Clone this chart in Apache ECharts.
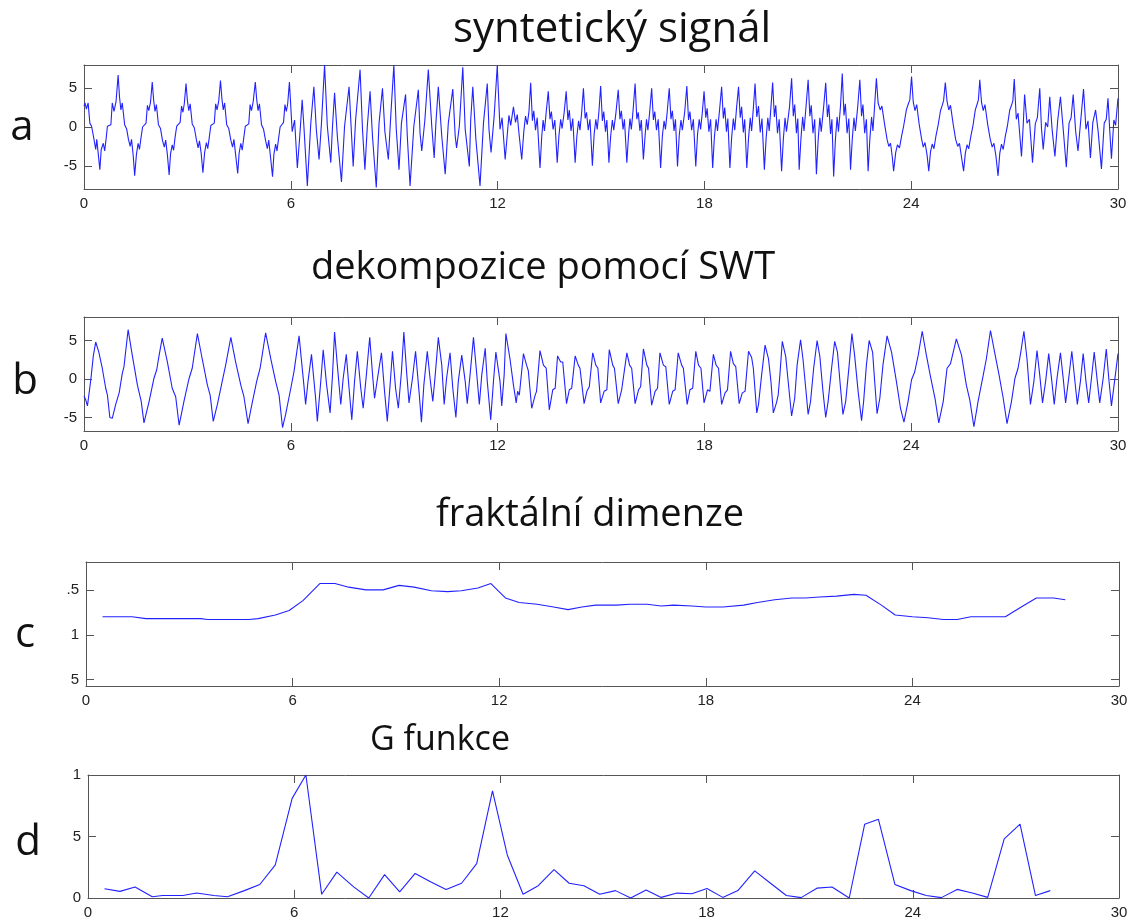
<!DOCTYPE html>
<html><head><meta charset="utf-8">
<script src="https://cdn.jsdelivr.net/npm/echarts@6/dist/echarts.min.js"></script>
<style>html,body{margin:0;padding:0;background:#fff}#c{width:1133px;height:920px}</style>
</head><body><div id="c"></div><script>
// ---- titles / labels ----
const panelTitles = ['syntetický signál', 'dekompozice pomocí SWT', 'fraktální dimenze', 'G funkce'];
const panelLetters = ['a', 'b', 'c', 'd'];
const xTicks = [0, 6, 12, 18, 24, 30];
const abTickValues = [-5, 0, 5];
const abTickLabels = ['-5', '0', '5'];
const cTickValues = [0.5, 1, 1.5];
const cTickLabels = ['5', '1', '.5'];
const dTickValues = [0, 0.5, 1];
const dTickLabels = ['0', '5', '1'];

// ---- a: synthetic signal [time, value] ----
const aSignal = [
[0,2.7],[0.03,3.1],[0.07,2.3],[0.12,3.1],[0.17,0.5],[0.22,0.1],[0.29,-1.6],[0.34,-2.9],[0.37,-1.6],[0.41,-3.3],[0.46,-5.5],[0.5,-2.9],[0.56,-2.1],[0.6,-3.1],[0.64,-1.6],[0.68,0.1],[0.73,-0.1],[0.78,0.3],[0.82,3.1],[0.87,2.0],[0.93,3.3],[0.99,6.7],
[1.03,3.9],[1.07,2.2],[1.11,3.1],[1.18,0.3],[1.24,-0.3],[1.29,-1.6],[1.34,-2.5],[1.38,-1.6],[1.43,-3.8],[1.47,-6.3],[1.52,-3.6],[1.57,-2.1],[1.61,-2.9],[1.65,-1.5],[1.7,0.0],[1.75,0.2],[1.8,0.5],[1.84,2.8],[1.88,2.1],[1.93,3.2],[1.98,5.8],
[2.02,3.5],[2.06,2.0],[2.1,2.9],[2.16,0.3],[2.22,-0.2],[2.28,-1.8],[2.33,-2.6],[2.37,-1.7],[2.42,-3.6],[2.47,-6.2],[2.51,-3.5],[2.56,-2.3],[2.6,-3.0],[2.64,-1.4],[2.69,0.1],[2.74,0.0],[2.79,0.6],[2.83,2.7],[2.87,1.9],[2.91,3.0],[2.96,5.6],
[3.0,3.4],[3.04,2.1],[3.08,3.0],[3.14,0.4],[3.2,-0.1],[3.26,-1.6],[3.31,-2.7],[3.35,-1.8],[3.4,-3.4],[3.45,-5.9],[3.5,-3.3],[3.55,-2.0],[3.59,-2.8],[3.63,-1.5],[3.68,0.2],[3.73,0.0],[3.78,0.5],[3.82,3.0],[3.86,2.2],[3.91,3.4],[3.96,6.0],
[4.0,3.7],[4.04,2.2],[4.08,3.1],[4.14,0.3],[4.2,-0.2],[4.26,-1.7],[4.31,-2.6],[4.35,-1.6],[4.4,-3.6],[4.46,-6.0],[4.5,-3.4],[4.55,-2.1],[4.59,-3.0],[4.63,-1.6],[4.68,0.1],[4.73,0.0],[4.78,0.4],[4.82,2.9],[4.86,2.1],[4.91,3.3],[4.97,5.8],
[5.01,3.6],[5.05,2.1],[5.09,3.0],[5.15,0.3],[5.21,-0.3],[5.27,-1.8],[5.32,-2.8],[5.36,-1.7],[5.41,-3.8],[5.47,-6.4],[5.51,-3.5],[5.56,-2.2],[5.6,-3.1],[5.64,-1.7],[5.69,0.0],[5.74,0.1],[5.79,0.6],[5.83,2.9],[5.87,2.0],[5.91,3.0],[5.96,5.8],
[6.04,-0.6],[6.11,0.9],[6.19,-5.3],[6.26,-1.2],[6.33,3.5],[6.38,0.1],[6.48,-7.6],[6.58,0.5],[6.67,5.2],[6.74,-0.3],[6.82,-4.2],[6.89,0.5],[6.98,8.0],
[7.06,0.1],[7.16,-4.6],[7.21,0.1],[7.27,4.4],[7.35,-1.2],[7.47,-7.1],[7.56,0.1],[7.69,5.2],[7.76,-0.8],[7.81,-5.1],[7.88,0.9],[8.01,7.4],
[8.08,-0.3],[8.15,-5.5],[8.22,0.1],[8.3,4.6],[8.37,-1.2],[8.48,-7.8],[8.56,0.5],[8.66,5.0],[8.73,-0.6],[8.83,-4.2],[8.9,1.4],[8.99,8.0],
[9.06,-0.3],[9.14,-5.5],[9.21,0.5],[9.33,4.2],[9.38,-1.2],[9.46,-7.6],[9.57,0.1],[9.7,4.8],[9.75,-0.8],[9.8,-3.1],[9.89,0.9],[9.99,7.4],
[10.09,0.1],[10.16,-4.0],[10.21,0.5],[10.28,5.2],[10.38,-1.2],[10.48,-6.1],[10.57,0.5],[10.7,4.9],[10.77,-1.2],[10.81,-2.7],[10.89,0.1],[10.99,7.7],
[11.06,-0.3],[11.18,-5.1],[11.22,0.9],[11.28,5.2],[11.37,-1.6],[11.49,-7.6],[11.59,0.5],[11.7,5.6],[11.75,-0.3],[11.81,-3.3],[11.9,1.4],[11.99,7.9],
[12.07,-0.3],[12.13,1.2],[12.22,-4.2],[12.28,-1.0],[12.33,1.5],[12.38,0.2],[12.46,2.6],[12.52,0.6],[12.57,1.6],[12.62,-0.8],[12.7,-4.2],[12.76,-0.6],[12.81,1.4],[12.86,0.3],[12.91,2.0],[12.96,5.7],
[13.01,0.8],[13.05,2.1],[13.1,-0.4],[13.15,1.2],[13.23,-5.3],[13.28,-1.3],[13.32,0.9],[13.36,-0.5],[13.41,1.9],[13.47,4.6],
[13.52,1.0],[13.56,2.0],[13.61,-0.3],[13.66,0.9],[13.73,-4.6],[13.78,-1.1],[13.83,1.0],[13.87,-0.2],[13.93,1.8],[13.99,4.6],
[14.04,0.9],[14.08,2.2],[14.13,-0.5],[14.18,1.1],[14.25,-4.6],[14.3,-1.2],[14.35,0.8],[14.39,-0.4],[14.44,1.9],[14.49,5.0],
[14.54,1.1],[14.58,1.9],[14.63,-0.4],[14.68,1.0],[14.75,-5.0],[14.8,-1.0],[14.85,1.0],[14.89,-0.3],[14.94,2.0],[14.99,5.3],
[15.04,0.8],[15.08,2.0],[15.13,-0.6],[15.17,0.9],[15.23,-4.6],[15.28,-1.2],[15.33,0.9],[15.37,-0.4],[15.43,1.7],[15.5,4.8],
[15.55,1.0],[15.59,2.1],[15.64,-0.3],[15.68,1.0],[15.75,-4.6],[15.8,-1.0],[15.84,1.1],[15.88,-0.3],[15.93,2.1],[15.99,5.6],
[16.04,1.0],[16.08,1.9],[16.13,-0.5],[16.17,0.9],[16.23,-4.2],[16.28,-1.1],[16.32,1.0],[16.36,-0.4],[16.41,1.8],[16.47,5.0],
[16.52,0.9],[16.56,2.0],[16.61,-0.4],[16.66,1.0],[16.73,-5.3],[16.78,-1.2],[16.83,0.8],[16.87,-0.3],[16.92,1.9],[16.98,5.0],
[17.03,1.0],[17.07,2.1],[17.12,-0.5],[17.16,1.0],[17.22,-5.1],[17.27,-1.1],[17.32,0.9],[17.36,-0.4],[17.43,2.0],[17.49,5.3],
[17.54,0.9],[17.58,2.0],[17.63,-0.4],[17.68,1.0],[17.75,-5.1],[17.8,-1.0],[17.85,1.0],[17.89,-0.3],[17.94,1.9],[17.99,4.6],
[18.04,1.2],[18.08,2.4],[18.13,-0.6],[18.18,1.0],[18.24,-5.3],[18.29,-1.3],[18.34,1.0],[18.38,-0.5],[18.44,2.2],[18.5,5.2],
[18.55,1.1],[18.59,2.5],[18.64,-0.6],[18.68,1.1],[18.74,-5.3],[18.79,-1.4],[18.84,1.1],[18.88,-0.4],[18.93,2.3],[18.99,5.2],
[19.04,1.2],[19.08,2.6],[19.13,-0.7],[19.17,1.0],[19.23,-5.3],[19.28,-1.5],[19.33,1.2],[19.37,-0.5],[19.42,2.4],[19.47,5.6],
[19.52,1.3],[19.57,2.7],[19.62,-0.7],[19.67,1.1],[19.74,-5.5],[19.79,-1.5],[19.84,1.2],[19.88,-0.5],[19.93,2.5],[19.98,5.75],
[20.03,1.3],[20.07,2.8],[20.12,-0.8],[20.17,1.0],[20.24,-5.7],[20.29,-1.6],[20.34,1.2],[20.38,-0.6],[20.47,2.6],[20.53,6.3],
[20.58,1.4],[20.62,2.9],[20.67,-0.8],[20.71,1.1],[20.75,-5.5],[20.8,-1.6],[20.85,1.3],[20.89,-0.5],[20.95,2.7],[21.01,6.1],
[21.06,1.4],[21.1,2.8],[21.15,-0.8],[21.2,1.0],[21.25,-6.1],[21.3,-1.7],[21.35,1.2],[21.39,-0.6],[21.46,2.6],[21.52,5.7],
[21.57,1.3],[21.61,2.9],[21.66,-0.9],[21.7,1.0],[21.75,-6.4],[21.8,-1.7],[21.85,1.3],[21.89,-0.6],[21.95,2.8],[22.0,6.9],
[22.05,1.5],[22.09,3.0],[22.14,-0.8],[22.19,1.1],[22.24,-5.5],[22.29,-1.6],[22.34,1.2],[22.38,-0.5],[22.45,2.7],[22.51,6.1],
[22.56,1.4],[22.6,2.9],[22.65,-0.8],[22.7,1.0],[22.75,-5.7],[22.8,-1.6],[22.85,1.3],[22.89,-0.5],[22.94,2.8],[22.99,6.3],
[23.04,3.1],[23.1,2.2],[23.15,2.7],[23.23,0.3],[23.3,-1.6],[23.35,-2.5],[23.4,-2.1],[23.45,-3.8],[23.49,-5.7],[23.55,-3.3],[23.6,-2.3],[23.66,-2.7],[23.72,-1.2],[23.78,0.1],[23.86,2.2],[23.91,2.9],[23.96,3.5],[24.01,6.5],
[24.06,3.2],[24.11,2.1],[24.16,2.9],[24.23,0.4],[24.3,-1.5],[24.35,-2.6],[24.4,-2.0],[24.46,-3.6],[24.51,-5.7],[24.56,-3.2],[24.61,-2.2],[24.66,-2.8],[24.72,-1.1],[24.78,0.2],[24.85,2.1],[24.9,2.8],[24.94,3.4],[24.99,5.75],
[25.04,3.3],[25.09,2.2],[25.14,2.8],[25.22,0.3],[25.29,-1.6],[25.35,-2.5],[25.4,-2.1],[25.46,-3.9],[25.52,-5.7],[25.57,-3.4],[25.62,-2.3],[25.67,-2.8],[25.73,-1.2],[25.79,0.1],[25.86,2.2],[25.91,2.9],[25.95,3.5],[25.99,6.1],
[26.04,3.2],[26.09,2.1],[26.14,2.9],[26.22,0.3],[26.29,-1.5],[26.35,-2.6],[26.4,-2.1],[26.46,-3.8],[26.52,-6.3],[26.57,-3.4],[26.62,-2.2],[26.67,-2.9],[26.73,-1.2],[26.79,0.1],[26.86,2.2],[26.91,2.8],[26.95,3.4],[26.99,6.2],
[27.05,1.0],[27.1,1.8],[27.2,-3.8],[27.25,0.2],[27.29,4.2],[27.36,0.5],[27.43,1.0],[27.52,-4.6],[27.6,0.4],[27.66,1.2],[27.73,5.0],[27.78,-0.2],[27.83,-2.9],[27.9,0.6],[27.96,0.0],[28.02,3.9],
[28.09,-0.4],[28.17,-3.8],[28.25,0.8],[28.33,3.9],[28.4,0.3],[28.5,-5.2],[28.58,0.5],[28.64,1.2],[28.7,4.2],[28.77,-0.5],[28.84,-3.1],[28.92,0.9],[29.0,4.9],
[29.07,-0.3],[29.13,0.8],[29.2,-4.0],[29.27,0.6],[29.35,2.2],[29.42,-0.4],[29.52,-5.4],[29.6,0.5],[29.66,1.0],[29.71,3.7],[29.76,-0.4],[29.81,-4.1],[29.88,0.9],[29.93,0.2],[30.0,3.7]
];

// ---- b: SWT decomposition [time, value] ----
const bSignal = [
[0,-2.2],[0.05,-2.7],[0.1,-3.5],[0.2,0.0],[0.27,3.0],[0.34,4.8],[0.43,3.5],[0.53,1.4],[0.63,-1.2],[0.68,-2.1],[0.75,-5.0],[0.82,-5.1],[0.92,-3.3],[1.02,-1.8],[1.11,0.7],[1.16,1.6],[1.28,6.4],
[1.4,3.1],[1.55,-0.8],[1.6,-1.0],[1.66,-2.9],[1.74,-5.7],[1.89,-2.9],[2.03,0.1],[2.11,1.2],[2.18,3.1],[2.27,5.3],
[2.42,2.2],[2.56,-1.2],[2.66,-2.3],[2.76,-6.0],[2.9,-2.9],[3.05,0.1],[3.14,1.4],[3.29,5.9],
[3.43,2.6],[3.58,-0.8],[3.66,-2.1],[3.75,-5.5],[3.87,-3.3],[4.01,-0.3],[4.11,1.8],[4.26,5.4],
[4.4,2.2],[4.55,-0.8],[4.64,-2.3],[4.76,-5.8],[4.88,-3.1],[5.01,-0.3],[5.11,1.4],[5.27,6.0],
[5.42,2.6],[5.56,-0.3],[5.66,-2.1],[5.76,-6.3],[5.85,-4.6],[6.0,-1.2],[6.09,0.9],[6.24,5.6],
[6.38,-0.8],[6.43,-3.3],[6.5,-0.3],[6.6,3.2],[6.72,-2.5],[6.77,-5.5],[6.87,-0.3],[6.94,3.8],[7.04,-0.8],[7.14,-4.4],[7.21,0.5],[7.27,6.1],
[7.35,1.8],[7.45,-3.3],[7.52,0.1],[7.61,3.2],[7.69,-1.2],[7.77,-5.3],[7.85,-0.3],[7.93,3.6],[8.03,-1.2],[8.1,-3.8],[8.2,0.9],[8.29,5.4],
[8.38,0.1],[8.43,-2.5],[8.53,0.5],[8.63,3.4],[8.72,-1.6],[8.8,-5.5],[8.88,-0.8],[8.95,3.6],[9.04,-1.2],[9.12,-3.8],[9.21,0.9],[9.28,6.1],
[9.36,0.9],[9.43,-3.1],[9.53,0.1],[9.62,3.6],[9.72,-1.6],[9.79,-5.6],[9.86,-0.8],[9.96,3.6],[10.04,0.1],[10.12,-2.9],[10.19,0.5],[10.28,5.4],
[10.38,1.8],[10.45,-3.3],[10.52,0.1],[10.62,3.4],[10.7,-1.2],[10.79,-5.0],[10.86,-0.3],[10.96,3.1],[11.06,-0.3],[11.12,-3.2],[11.2,0.5],[11.3,5.4],
[11.39,0.9],[11.47,-3.3],[11.54,0.5],[11.64,4.0],[11.7,-0.3],[11.8,-5.3],[11.88,-0.3],[11.95,3.5],[12.07,-0.3],[12.12,-3.5],[12.19,0.5],[12.24,5.9],
[12.36,2.6],[12.46,-0.8],[12.54,-3.1],[12.58,-1.6],[12.63,-2.1],[12.75,3.3],[12.84,1.8],[12.89,1.1],[12.99,-3.8],[13.09,-2.1],[13.13,-1.6],[13.23,3.7],
[13.33,1.8],[13.41,1.4],[13.5,-4.0],[13.6,-1.4],[13.67,-1.2],[13.74,3.0],[13.83,2.2],[13.89,2.2],[14.0,-3.2],[14.08,-1.4],[14.15,-1.2],[14.25,3.0],
[14.34,1.8],[14.39,1.4],[14.51,-3.2],[14.59,-1.6],[14.66,-1.0],[14.76,3.4],[14.85,1.8],[14.91,1.4],[14.99,-3.1],[15.09,-1.6],[15.17,-1.4],[15.24,3.8],
[15.34,1.8],[15.39,1.4],[15.5,-3.2],[15.6,-1.4],[15.65,-1.4],[15.75,3.4],[15.83,1.8],[15.89,1.4],[15.99,-3.2],[16.09,-1.4],[16.15,-1.0],[16.23,3.9],
[16.33,1.8],[16.38,1.4],[16.47,-3.4],[16.57,-1.6],[16.64,-1.2],[16.71,3.4],[16.81,1.8],[16.88,1.6],[16.98,-3.3],[17.08,-1.6],[17.15,-1.4],[17.24,3.4],
[17.34,1.8],[17.39,1.4],[17.5,-3.3],[17.58,-1.4],[17.66,-1.2],[17.75,3.6],[17.83,1.8],[17.9,1.4],[17.99,-3.1],[18.09,-1.4],[18.16,-1.6],[18.26,3.2],
[18.34,1.8],[18.41,1.4],[18.5,-3.3],[18.6,-1.8],[18.67,-1.4],[18.76,3.6],[18.84,2.0],[18.91,1.6],[19.01,-3.2],[19.1,-1.8],[19.18,-1.6],[19.28,3.6],
[19.37,2.8],[19.42,1.4],[19.52,-4.4],[19.57,-3.3],[19.66,0.5],[19.76,4.4],[19.86,2.6],[19.93,-0.3],[20.0,-4.4],[20.09,-3.1],[20.14,-2.1],[20.19,0.5],[20.26,4.9],
[20.36,2.9],[20.43,-0.3],[20.53,-4.8],[20.62,-2.5],[20.69,1.8],[20.79,5.1],[20.86,2.6],[20.94,-1.2],[21.01,-4.6],[21.08,-2.9],[21.17,1.4],[21.27,5.0],
[21.35,2.9],[21.44,-1.6],[21.52,-5.0],[21.59,-2.9],[21.69,1.4],[21.78,4.9],[21.86,3.5],[21.95,-1.2],[22.02,-4.6],[22.1,-2.9],[22.2,1.8],[22.28,5.9],
[22.36,3.0],[22.46,-1.6],[22.56,-5.4],[22.62,-2.9],[22.7,1.8],[22.78,5.0],[22.88,3.5],[22.94,-0.3],[23.01,-4.5],[23.09,-2.5],[23.18,1.8],[23.3,5.6],
[23.43,3.5],[23.57,-0.3],[23.69,-3.8],[23.79,-5.6],[23.91,-2.9],[24.01,-0.1],[24.1,0.9],[24.2,3.0],[24.32,6.2],
[24.44,3.1],[24.56,0.3],[24.69,-2.5],[24.8,-5.7],[24.93,-2.9],[25.04,1.4],[25.14,2.0],[25.22,3.5],[25.31,5.2],
[25.46,3.1],[25.6,-0.8],[25.7,-2.7],[25.82,-6.2],[25.94,-2.9],[26.09,0.5],[26.18,2.6],[26.3,6.3],
[26.42,3.5],[26.55,0.5],[26.67,-2.5],[26.78,-5.8],[26.91,-2.9],[27.01,0.1],[27.1,1.4],[27.18,3.5],[27.27,6.2],
[27.36,2.6],[27.46,-3.3],[27.56,-0.3],[27.65,3.7],[27.73,0.5],[27.81,-3.1],[27.9,-0.3],[27.99,3.3],[28.08,-0.3],[28.15,-3.3],[28.23,0.1],[28.33,3.4],
[28.41,0.1],[28.48,-3.1],[28.57,0.1],[28.66,3.6],[28.75,-0.3],[28.82,-3.3],[28.91,-0.3],[28.99,3.3],[29.07,-0.3],[29.15,-3.1],[29.23,0.1],[29.31,3.5],
[29.4,-0.3],[29.47,-3.1],[29.57,0.1],[29.66,3.9],[29.74,-0.3],[29.81,-3.5],[29.9,-0.3],[30.0,3.3]
];

// ---- c: fractal dimension ----
const cTime = [0.48,0.84,1.34,1.74,3.34,3.53,4.73,5.0,5.5,5.9,6.3,6.79,7.23,7.63,8.13,8.63,9.09,9.53,10.03,10.5,10.9,11.38,11.76,12.18,12.58,13.1,13.58,14.0,14.4,14.8,15.4,15.8,16.3,16.7,17.07,17.6,18.0,18.5,19.1,19.5,20.0,20.5,20.9,21.3,21.8,22.3,22.65,23.1,23.5,24.0,24.45,24.9,25.3,25.7,26.2,26.7,27.16,27.6,28.1,28.44];
const cValue = [1.2,1.2,1.2,1.18,1.18,1.17,1.17,1.18,1.22,1.27,1.38,1.57,1.57,1.53,1.5,1.5,1.55,1.53,1.49,1.48,1.49,1.52,1.57,1.41,1.36,1.34,1.31,1.28,1.31,1.33,1.33,1.34,1.34,1.32,1.33,1.32,1.31,1.31,1.33,1.36,1.39,1.41,1.41,1.42,1.43,1.45,1.44,1.33,1.22,1.2,1.19,1.17,1.17,1.2,1.2,1.2,1.31,1.41,1.41,1.39];

// ---- d: G function ----
const dTime = [0.48,0.93,1.37,1.87,2.17,2.76,3.16,3.66,4.06,4.55,5.0,5.45,5.94,6.34,6.8,7.24,7.73,8.17,8.63,9.07,9.52,9.98,10.42,10.87,11.31,11.77,12.2,12.66,13.1,13.56,14.0,14.43,14.89,15.35,15.79,16.24,16.68,17.14,17.57,18.01,18.47,18.91,19.4,19.86,20.32,20.75,21.21,21.65,22.15,22.6,23.0,23.48,23.94,24.39,24.83,25.29,25.73,26.18,26.66,27.12,27.57,28.0];
const dValue = [0.075,0.054,0.09,0.01,0.02,0.02,0.04,0.02,0.01,0.06,0.11,0.27,0.81,1.0,0.03,0.21,0.09,0.0,0.19,0.05,0.2,0.13,0.07,0.12,0.28,0.87,0.35,0.03,0.1,0.23,0.12,0.1,0.03,0.06,0.0,0.065,0.005,0.04,0.035,0.078,0.005,0.06,0.22,0.12,0.02,0.003,0.08,0.09,0.0,0.6,0.64,0.11,0.06,0.02,0.003,0.07,0.04,0.005,0.48,0.6,0.02,0.06];

// ---- layout ----
const grids = [
  {left: 84, top: 65, width: 1034, height: 124},
  {left: 84, top: 317, width: 1034, height: 114},
  {left: 86, top: 562, width: 1033, height: 124},
  {left: 88, top: 775, width: 1031, height: 125}
];
const yRanges = [[-8, 8], [-6.75, 8.05], [0.43, 1.81], [0, 1]];
const yTickVals = [abTickValues, abTickValues, cTickValues, dTickValues];
const yTickTxt = [abTickLabels, abTickLabels, cTickLabels, dTickLabels];
const titleCenters = [[612, 30], [543, 268], [590, 515], [440, 740]];
const titleSizes = [42, 38, 38, 34];
const letterPos = [[22, 128], [25, 382], [25, 635], [28, 843]];

const axisColor = '#555';
const labelFont = 'Liberation Sans';
const lineColor = '#2222ff';

const xAxes = [], yAxes = [], series = [];
grids.forEach((g, i) => {
  const lineStyle = {color: axisColor, width: 1};
  xAxes.push({
    type: 'value', gridIndex: i, min: 0, max: 30, interval: 6, position: 'bottom',
    axisLine: {show: true, onZero: false, lineStyle},
    axisTick: {show: true, inside: true, length: 8, lineStyle, customValues: xTicks},
    axisLabel: {show: true, color: '#222', fontFamily: labelFont, fontSize: 15, margin: 7, customValues: xTicks},
    splitLine: {show: false}
  });
  xAxes.push({
    type: 'value', gridIndex: i, min: 0, max: 30, interval: 6, position: 'top',
    axisLine: {show: true, onZero: false, lineStyle},
    axisTick: {show: true, inside: true, length: 8, lineStyle, customValues: xTicks},
    axisLabel: {show: false}, splitLine: {show: false}
  });
  const vals = yTickVals[i], txt = yTickTxt[i];
  yAxes.push({
    type: 'value', gridIndex: i, min: yRanges[i][0], max: yRanges[i][1], position: 'left',
    axisLine: {show: true, onZero: false, lineStyle},
    axisTick: {show: true, inside: true, length: 8, lineStyle, customValues: vals},
    axisLabel: {show: true, color: '#222', fontFamily: labelFont, fontSize: 15, margin: 7, customValues: vals,
      formatter: v => { const k = vals.findIndex(x => Math.abs(x - v) < 1e-9); return k >= 0 ? txt[k] : ''; }},
    splitLine: {show: false}
  });
  yAxes.push({
    type: 'value', gridIndex: i, min: yRanges[i][0], max: yRanges[i][1], position: 'right',
    axisLine: {show: true, onZero: false, lineStyle},
    axisTick: {show: true, inside: true, length: 8, lineStyle, customValues: vals},
    axisLabel: {show: false}, splitLine: {show: false}
  });
});

const panelData = [
  aSignal,
  bSignal,
  cTime.map((t, k) => [t, cValue[k]]),
  dTime.map((t, k) => [t, dValue[k]])
];
panelData.forEach((d, i) => {
  series.push({
    type: 'line', xAxisIndex: 2 * i, yAxisIndex: 2 * i, data: d,
    showSymbol: false, symbol: 'none', smooth: false, clip: true,
    lineStyle: {color: lineColor, width: 1.1}
  });
});

const graphics = [];
panelTitles.forEach((t, i) => {
  graphics.push({type: 'text', x: titleCenters[i][0], y: titleCenters[i][1], silent: true,
    style: {text: t, fill: '#111', font: titleSizes[i] + 'px "Open Sans"', align: 'center', verticalAlign: 'middle'}});
});
panelLetters.forEach((t, i) => {
  graphics.push({type: 'text', x: letterPos[i][0], y: letterPos[i][1], silent: true,
    style: {text: t, fill: '#111', font: '42px "Open Sans"', align: 'center', verticalAlign: 'middle'}});
});

const chart = echarts.init(document.getElementById('c'), null, {renderer: 'canvas'});
chart.setOption({
  animation: false,
  backgroundColor: '#fff',
  grid: grids,
  xAxis: xAxes,
  yAxis: yAxes,
  series: series,
  graphic: graphics
});
</script></body></html>
